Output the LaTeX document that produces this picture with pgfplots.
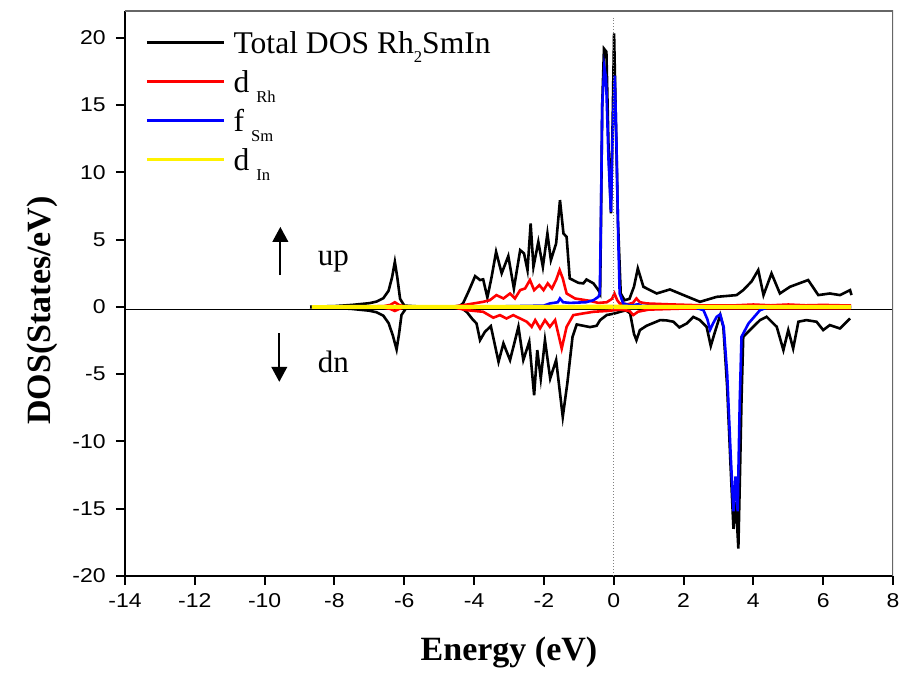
\documentclass[border=0pt]{standalone}
\usepackage{fontspec}
\setmainfont{Liberation Serif}
\newfontfamily\tickfont[FakeStretch=1.15]{Liberation Sans}
\usepackage{pgfplots}
\pgfplotsset{compat=1.18}
\usetikzlibrary{arrows.meta}
\newcommand{\sub}[1]{\hspace{3.5pt}\smash{\raisebox{-5.2pt}{\fontsize{8.3}{9}\selectfont #1}}}
\begin{document}
\begin{tikzpicture}
\begin{axis}[
  name=ax,
  scale only axis,
  width=384pt, height=282.5pt,
  xmin=-14, xmax=8, ymin=-20, ymax=22,
  xtick={-14,-12,...,8},
  ytick={-20,-15,...,20},
  axis x line*=bottom, axis y line*=left,
  axis line style={-, line width=1pt, black},
  tick align=outside,
  major tick length=4.5pt,
  tick style={line width=1pt, black},
  /pgf/number format/assume math mode=true,
  ticklabel style={font=\tickfont\fontsize{10}{12}\selectfont},
  yticklabel style={inner sep=0pt, xshift=-5pt},
  xticklabel style={inner sep=0pt, yshift=-4pt},
  xlabel={Energy (eV)},
  ylabel={DOS(States/eV)},
  label style={font=\bfseries\fontsize{17}{19}\selectfont},
  xlabel style={at={(axis description cs:0.5,0)}, anchor=center, yshift=-38pt},
  ylabel style={at={(axis description cs:-0.108,0.47)}, anchor=center},
  legend style={draw=none, fill=none, at={(axis description cs:0.026,1)}, anchor=north west,
    yshift=-5.75pt,
    font=\fontsize{15.8}{18}\selectfont, row sep=0pt, inner sep=0pt,
    nodes={inner sep=0pt, text height=15.25pt, text depth=4.25pt}, column sep=4pt},
  legend cell align=left,
  legend image code/.code={\draw[#1, line width=1.6pt] (0pt,0pt) -- (38.5pt,0pt);},
]
% zero line
\addplot[black, line width=0.8pt, forget plot] coordinates {(-14,-0.2) (8,-0.2)};
% total up
\addplot[black, line width=1.3pt] coordinates {
(-8.7,0.02) (-8.0,0.06) (-7.5,0.15) (-7.0,0.28) (-6.79,0.4) (-6.6,0.65) (-6.45,1.2) (-6.35,2.2) (-6.27,3.35) (-6.2,2.2) (-6.12,0.6) (-6.0,0.1) (-5.5,0.02) (-4.6,0.02) (-4.4,0.08) (-4.31,0.3) (-4.15,1.2) (-3.97,2.29) (-3.83,2.0) (-3.74,2.05) (-3.62,0.7) (-3.5,2.2) (-3.37,4.1) (-3.21,2.5) (-3.02,3.78) (-2.86,1.37) (-2.68,4.22) (-2.57,3.98) (-2.47,2.74) (-2.38,6.2) (-2.30,2.98) (-2.16,4.84) (-2.03,2.98) (-1.90,5.46) (-1.80,3.48) (-1.65,4.72) (-1.54,7.94) (-1.44,5.46) (-1.35,5.21) (-1.26,2.12) (-1.01,1.79) (-0.87,1.75) (-0.78,2.04) (-0.58,1.75) (-0.44,1.25) (-0.39,1.0) (-0.37,5) (-0.33,15) (-0.28,19.2) (-0.21,18.97) (-0.15,12) (-0.08,6.95) (-0.03,14) (0.01,20.33) (0.06,14) (0.12,6.45) (0.2,1.0) (0.31,0.5) (0.45,0.6) (0.58,1.5) (0.69,2.86) (0.85,1.5) (1.23,1.0) (1.61,1.3) (2.0,0.88) (2.47,0.38) (2.95,0.75) (3.52,0.88) (3.71,1.25) (3.95,1.9) (4.14,2.74) (4.29,0.88) (4.52,2.49) (4.76,1.0) (5.05,1.5) (5.57,2.0) (5.86,0.88) (6.19,1.0) (6.48,0.88) (6.77,1.25) (6.81,0.88)
};
\addlegendentry{Total DOS Rh\smash{\raisebox{-4.5pt}{\fontsize{8.3}{9}\selectfont 2}}SmIn}
% total down
\addplot[black, line width=1.3pt, forget plot] coordinates {
(-8.7,-0.02) (-8.0,-0.06) (-7.5,-0.15) (-7.0,-0.28) (-6.79,-0.4) (-6.6,-0.65) (-6.45,-1.2) (-6.33,-2.1) (-6.22,-3.16) (-6.15,-2.0) (-6.08,-0.6) (-5.95,-0.1) (-5.5,-0.02) (-4.6,-0.02) (-4.35,-0.1) (-4.2,-0.4) (-4.05,-0.9) (-3.93,-1.23) (-3.83,-2.47) (-3.69,-1.85) (-3.52,-1.43) (-3.30,-4.08) (-3.16,-2.71) (-2.97,-3.95) (-2.73,-1.48) (-2.59,-3.95) (-2.42,-2.59) (-2.28,-6.56) (-2.19,-3.21) (-2.09,-5.32) (-1.97,-2.47) (-1.82,-5.32) (-1.65,-3.95) (-1.46,-8.17) (-1.33,-5.69) (-1.18,-2.22) (-1.06,-1.3) (-0.68,-1.5) (-0.49,-1.4) (-0.39,-0.98) (-0.2,-0.6) (0.0,-0.5) (0.2,-0.35) (0.35,-0.25) (0.47,-0.48) (0.58,-2.0) (0.65,-2.47) (0.75,-1.72) (0.94,-1.4) (1.33,-0.98) (1.51,-1.0) (1.71,-1.1) (1.88,-1.52) (2.09,-1.23) (2.28,-0.74) (2.47,-0.98) (2.66,-1.48) (2.78,-2.9) (2.90,-1.85) (3.05,-0.61) (3.14,-1.48) (3.25,-6) (3.35,-12) (3.43,-16.5) (3.5,-14.5) (3.57,-17.96) (3.62,-12) (3.66,-6.93) (3.71,-2.22) (3.9,-1.72) (4.19,-0.98) (4.38,-0.73) (4.67,-1.48) (4.86,-3.21) (5.0,-1.72) (5.14,-3.09) (5.29,-1.1) (5.52,-0.98) (5.81,-1.1) (6.0,-1.72) (6.19,-1.35) (6.48,-1.6) (6.77,-0.86)
};
% d Rh up
\addplot[red, line width=1.3pt] coordinates {
(-8.6,0.02) (-6.6,0.05) (-6.4,0.15) (-6.27,0.35) (-6.15,0.15) (-6.0,0.03) (-4.6,0.03) (-4.31,0.13) (-3.74,0.38) (-3.55,0.5) (-3.36,0.88) (-3.16,0.63) (-2.97,1.0) (-2.83,0.63) (-2.68,1.25) (-2.54,1.37) (-2.40,2.0) (-2.28,1.25) (-2.13,1.62) (-2.01,1.25) (-1.89,1.75) (-1.77,1.37) (-1.65,2.0) (-1.55,2.74) (-1.46,2.12) (-1.35,1.0) (-1.11,0.63) (-0.68,0.45) (-0.44,0.3) (-0.2,0.35) (-0.05,0.6) (0.02,1.0) (0.1,0.5) (0.17,0.26) (0.4,0.2) (0.55,0.3) (0.65,0.63) (0.75,0.35) (0.94,0.26) (1.5,0.2) (2.5,0.12) (3.5,0.12) (4.0,0.18) (4.5,0.12) (5.0,0.18) (5.5,0.12) (6.0,0.15) (6.5,0.12) (6.8,0.12)
};
\addlegendentry{d\sub{Rh}}
% d Rh down
\addplot[red, line width=1.3pt, forget plot] coordinates {
(-8.6,-0.02) (-6.6,-0.05) (-6.4,-0.15) (-6.27,-0.3) (-6.15,-0.15) (-6.0,-0.03) (-4.6,-0.03) (-4.21,-0.24) (-3.74,-0.36) (-3.45,-0.8) (-3.26,-0.61) (-3.07,-0.86) (-2.88,-0.61) (-2.68,-0.86) (-2.49,-1.1) (-2.35,-1.48) (-2.25,-0.98) (-2.11,-1.6) (-1.97,-0.98) (-1.83,-1.48) (-1.68,-0.98) (-1.49,-3.09) (-1.35,-1.48) (-1.16,-0.61) (-0.87,-0.48) (-0.58,-0.36) (-0.2,-0.3) (0.2,-0.2) (0.45,-0.3) (0.56,-0.6) (0.7,-0.35) (1.0,-0.2) (2.0,-0.12) (3.0,-0.1) (4.0,-0.1) (5.0,-0.1) (6.8,-0.1)
};
% f Sm up
\addplot[blue, line width=1.3pt] coordinates {
(-4.5,0.01) (-3.0,0.05) (-2.0,0.1) (-1.83,0.26) (-1.6,0.35) (-1.54,0.63) (-1.45,0.35) (-1.25,0.3) (-0.8,0.35) (-0.58,0.5) (-0.44,0.75) (-0.40,1.0) (-0.37,6) (-0.33,15) (-0.27,17.85) (-0.22,17.0) (-0.15,11) (-0.08,7.07) (-0.03,13) (0.03,17.2) (0.08,12) (0.13,5) (0.17,1.0) (0.27,0.26) (0.5,0.1) (0.7,0.2) (0.8,0.08) (1.5,0.03) (6.8,0.02)
};
\addlegendentry{f\sub{Sm}}
% f Sm down
\addplot[blue, line width=1.3pt, forget plot] coordinates {
(1.5,-0.02) (2.3,-0.02) (2.57,-0.24) (2.68,-0.9) (2.76,-1.7) (2.85,-1.2) (2.95,-0.73) (3.05,-0.55) (3.15,-1.5) (3.25,-5) (3.35,-11) (3.43,-15.2) (3.49,-12.6) (3.55,-15.2) (3.61,-7) (3.66,-2.22) (3.86,-1.23) (4.19,-0.24) (4.4,-0.05) (6.8,-0.02)
};
% d In
\addplot[yellow, line width=1.3pt] coordinates {
(-8.65,0.04) (-6.3,0.06) (-4.0,0.05) (-2.0,0.06) (0.0,0.07) (2.0,0.05) (4.0,0.06) (6.8,0.06)
};
\addlegendentry{d\sub{In}}
\addplot[yellow, line width=1.3pt, forget plot] coordinates {
(-8.65,-0.04) (-6.3,-0.05) (-4.0,-0.05) (-2.0,-0.06) (0.0,-0.06) (2.0,-0.05) (4.0,-0.05) (6.8,-0.05)
};
% Fermi level
\addplot[gray, line width=0.5pt, densely dotted, forget plot] coordinates {(0,-20) (0,21.5)};
% frame top/right
\draw[gray!80!black, line width=0.6pt] (rel axis cs:0,1) -- (rel axis cs:1,1) -- (rel axis cs:1,0);
% spin arrows
\draw[line width=1pt, -{Triangle[length=7.5pt,width=7.8pt]}] (axis cs:-9.55,2.37) -- (axis cs:-9.55,5.95);
\draw[line width=1pt, -{Triangle[length=7.5pt,width=7.8pt]}] (axis cs:-9.58,-1.97) -- (axis cs:-9.58,-5.57);
\node[font=\fontsize{15.5}{18}\selectfont] at (axis cs:-8.03,3.4) {up};
\node[font=\fontsize{15.5}{18}\selectfont] at (axis cs:-8.03,-4.1) {dn};
\end{axis}
\path[use as bounding box] ([shift={(-62.5pt,-49.5pt)}]ax.south west) rectangle ([shift={(5.5pt,5.5pt)}]ax.north east);
\end{tikzpicture}
\end{document}
